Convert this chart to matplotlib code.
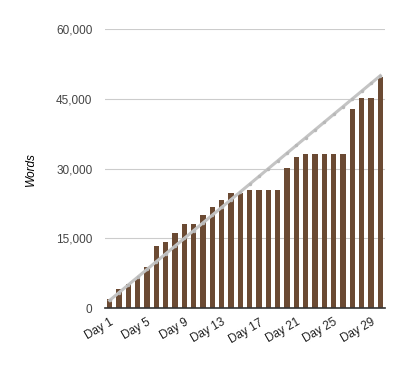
import numpy as np
import matplotlib.pyplot as plt

plt.rcParams['font.family'] = ['Liberation Sans', 'DejaVu Sans']

days = ['Day %d' % d for d in range(1, 31)]
words = [1900, 4100, 5200, 6400, 8800, 13300, 14200, 16100, 18100, 18100,
         20000, 21700, 23200, 24700, 24800, 25400, 25400, 25400, 25400, 30100,
         32500, 33100, 33100, 33100, 33100, 33100, 42800, 45100, 45100, 49800]
par = [1667, 3333, 5000, 6667, 8333, 10000, 11667, 13333, 15000, 16667,
       18333, 20000, 21667, 23333, 25000, 26667, 28333, 30000, 31667, 33333,
       35000, 36667, 38333, 40000, 41667, 43333, 45000, 46667, 48333, 50000]
yticks = [0, 15000, 30000, 45000, 60000]

fig = plt.figure(figsize=(4.1, 3.69), dpi=100)
ax = fig.add_axes([0.256, 0.165, 0.683, 0.756])

x = np.arange(len(days))
ax.bar(x, words, width=0.58, color='#6b4a33', zorder=2)
ax.plot(x, par, color='#c4c4c4', lw=2.2, marker='o', markersize=2.5,
        markerfacecolor='#b8b8b8', markeredgewidth=0, zorder=3)

ax.set_xlim(-0.5, len(days) - 0.5)
ax.set_ylim(0, 60000)
ax.set_yticks(yticks)
ax.set_yticklabels(['{:,}'.format(v) for v in yticks], color='#444444', fontsize=8.5)
ax.set_xticks(x[::4])
ax.set_xticklabels(days[::4], rotation=30, ha='right', rotation_mode='anchor',
                   fontsize=8.5, color='#222222')
ax.tick_params(axis='y', length=0, pad=9)
ax.tick_params(axis='x', length=0, pad=6)
ax.yaxis.grid(True, color='#cccccc', lw=0.8, zorder=0)
ax.set_ylabel('Words', style='italic', fontsize=8.5, labelpad=14)

for s in ['top', 'right', 'left']:
    ax.spines[s].set_visible(False)
ax.spines['bottom'].set_color('#333333')
ax.spines['bottom'].set_linewidth(1.2)

fig.savefig('out.png', dpi=100)
